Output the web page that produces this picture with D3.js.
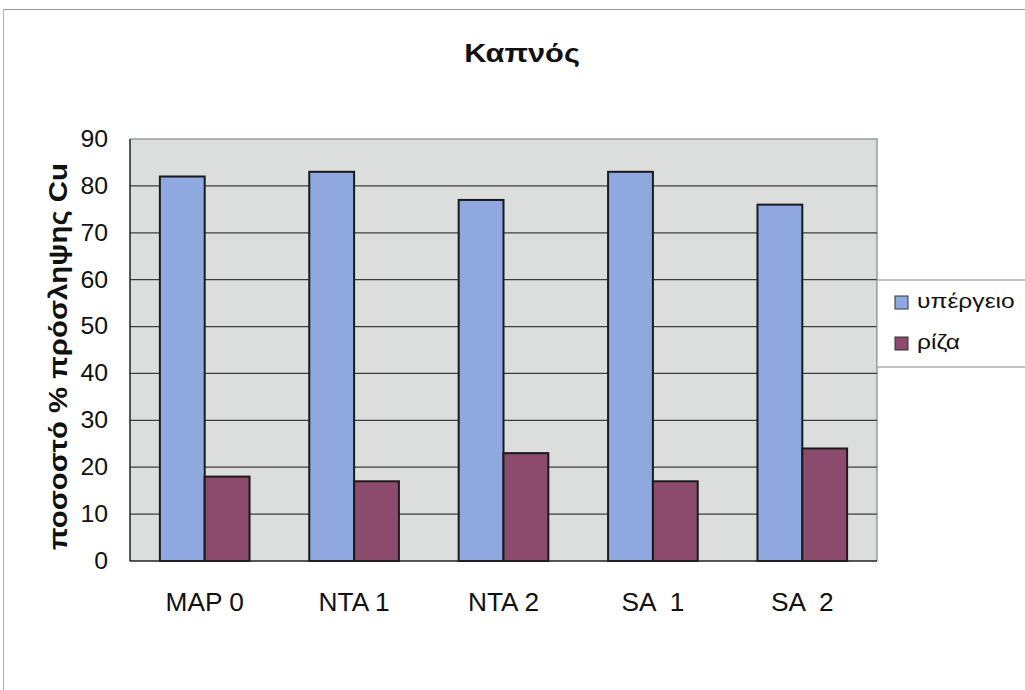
<!DOCTYPE html>
<html>
<head>
<meta charset="utf-8">
<script src="https://cdn.jsdelivr.net/npm/d3@7"></script>
<style>
  body { margin: 0; background: #fff; }
  svg { display: block; }
  text { font-family: "Liberation Sans", Arial, sans-serif; fill: #111; }
</style>
</head>
<body>
<svg id="chart" width="1025" height="690"></svg>
<script>
const categories = ["MAP 0", "NTA 1", "NTA 2", "SA  1", "SA  2"];
const seriesNames = ["υπέργειο", "ρίζα"];
const aboveGround = [82, 83, 77, 83, 76];
const root = [18, 17, 23, 17, 24];
const yTicks = [0, 10, 20, 30, 40, 50, 60, 70, 80, 90];
const colors = ["#8fa9e0", "#8c4a6c"];
const titleText = "Καπνός";
const yLabelText = "ποσοστό % πρόσληψης Cu";

const svg = d3.select("#chart");
const plot = { left: 130, top: 139, right: 877, bottom: 561 };
const FONT = "'Liberation Sans', Arial, sans-serif";

// outer frame (top + left)
svg.append("line").attr("x1", 3).attr("x2", 1025).attr("y1", 9.5).attr("y2", 9.5)
  .attr("stroke", "#9a9a9a").attr("stroke-width", 1);
svg.append("line").attr("x1", 3.5).attr("x2", 3.5).attr("y1", 9).attr("y2", 690)
  .attr("stroke", "#b0b0b0").attr("stroke-width", 1);

const x0 = d3.scaleBand().domain(categories).range([plot.left, plot.right]).paddingInner(0.4).paddingOuter(0.2);
const x1 = d3.scaleBand().domain(seriesNames).range([0, x0.bandwidth()]);
const y = d3.scaleLinear().domain([0, 90]).range([plot.bottom, plot.top]);

// plot background
svg.append("rect").attr("x", plot.left).attr("y", plot.top)
  .attr("width", plot.right - plot.left).attr("height", plot.bottom - plot.top)
  .attr("fill", "#dcdedd");
svg.append("path")
  .attr("d", `M${plot.left},${plot.top}H${plot.right}V${plot.bottom}`)
  .attr("fill", "none").attr("stroke", "#9a9a9a").attr("stroke-width", 1.5);

// gridlines
svg.append("g").selectAll("line").data(yTicks.filter(d => d > 0 && d < 90)).join("line")
  .attr("x1", plot.left).attr("x2", plot.right)
  .attr("y1", d => y(d)).attr("y2", d => y(d))
  .attr("stroke", "#3c3c3c").attr("stroke-width", 1.2);

// y axis
const yAxis = d3.axisLeft(y).tickValues(yTicks).tickSize(0).tickPadding(22);
const gy = svg.append("g").attr("transform", `translate(${plot.left},0)`).call(yAxis);
gy.select(".domain").remove();
gy.attr("font-size", 23).attr("font-family", FONT);
gy.selectAll("text").attr("fill", "#111")
  .attr("transform", "translate(-22,0) scale(1.08,1) translate(22,0)");

// bars
const data = categories.map((c, i) => ({ c, vals: [aboveGround[i], root[i]] }));
const groups = svg.append("g").selectAll("g").data(data).join("g")
  .attr("transform", d => `translate(${x0(d.c)},0)`);
groups.selectAll("rect").data(d => d.vals.map((v, j) => ({ v, s: seriesNames[j], j }))).join("rect")
  .attr("x", d => x1(d.s)).attr("width", x1.bandwidth())
  .attr("y", d => y(d.v)).attr("height", d => y(0) - y(d.v))
  .attr("fill", d => colors[d.j]).attr("stroke", "#1a1a1a").attr("stroke-width", 2);

// axes lines (left + bottom)
svg.append("line").attr("x1", plot.left).attr("x2", plot.left).attr("y1", plot.top).attr("y2", plot.bottom)
  .attr("stroke", "#222").attr("stroke-width", 1.5);
svg.append("line").attr("x1", plot.left).attr("x2", plot.right).attr("y1", plot.bottom).attr("y2", plot.bottom)
  .attr("stroke", "#222").attr("stroke-width", 1.5);

// x axis labels
const xAxis = d3.axisBottom(x0).tickSize(0).tickPadding(32);
const gx = svg.append("g").attr("transform", `translate(0,${plot.bottom})`).call(xAxis);
gx.select(".domain").remove();
gx.attr("font-size", 25).attr("font-family", FONT);
gx.selectAll("text").attr("fill", "#111").style("white-space", "pre")
  .attr("transform", "scale(1.05,1)");

// title
svg.append("text").attr("x", 0).attr("y", 0).attr("text-anchor", "middle")
  .attr("transform", "translate(522,62) scale(1.16,1)")
  .attr("font-size", 26.5).attr("font-weight", "bold").text(titleText);

// y label
svg.append("text").attr("transform", "translate(67,356.5) rotate(-90)")
  .attr("text-anchor", "middle").attr("font-size", 26).attr("font-weight", "bold")
  .attr("textLength", 387).attr("lengthAdjust", "spacingAndGlyphs")
  .text(yLabelText);

// legend
const lg = svg.append("g");
lg.append("rect").attr("x", 877).attr("y", 280).attr("width", 160).attr("height", 87)
  .attr("fill", "#fff").attr("stroke", "#9a9a9a").attr("stroke-width", 1.2);
const items = lg.selectAll("g.item").data(seriesNames).join("g").attr("class", "item")
  .attr("transform", (d, i) => `translate(895,${296 + i * 41})`);
items.append("rect").attr("width", 13).attr("height", 13)
  .attr("fill", (d, i) => colors[i]).attr("stroke", "#333").attr("stroke-width", 1);
items.append("text").attr("x", 0).attr("y", 0)
  .attr("transform", "translate(22,12) scale(1.2,1)")
  .attr("font-size", 20.5).text(d => d);
</script>
</body>
</html>
